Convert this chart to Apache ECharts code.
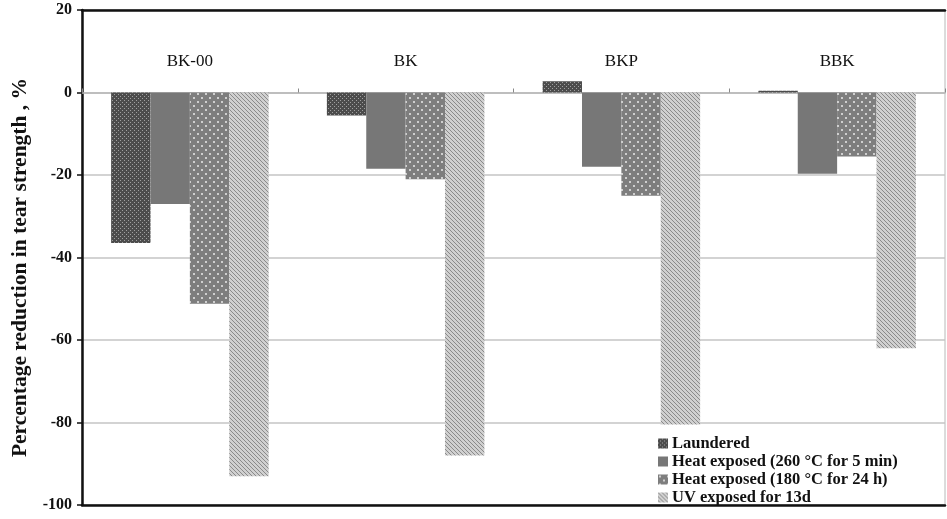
<!DOCTYPE html>
<html>
<head>
<meta charset="utf-8">
<script src="https://cdn.jsdelivr.net/npm/echarts@6/dist/echarts.min.js"></script>
<style>
  html, body { margin: 0; padding: 0; background: #fff; }
  #main { width: 947px; height: 519px; }
</style>
</head>
<body>
<div id="main"></div>
<script>
var categories = ['BK-00', 'BK', 'BKP', 'BBK'];
var seriesNames = ['Laundered', 'Heat exposed (260 °C for 5 min)', 'Heat exposed (180 °C for 24 h)', 'UV exposed for 13d'];
var laundered = [-36.5, -5.6, 2.7, 0.4];
var heat260 = [-27, -18.5, -18, -19.7];
var heat180 = [-51.2, -21, -25, -15.5];
var uv13d = [-93, -88, -80.5, -62];
var yTicks = [-100, -80, -60, -40, -20, 0, 20];

// small canvas tiles for the hatched fills
function tile(size, base, draw) {
    var c = document.createElement('canvas');
    c.width = size; c.height = size;
    var ctx = c.getContext('2d');
    ctx.fillStyle = base;
    ctx.fillRect(0, 0, size, size);
    draw(ctx);
    return { image: c, repeat: 'repeat' };
}

var fillLaundered = tile(4, '#4c4c4c', function (ctx) {
    ctx.fillStyle = '#a0a0a0';
    ctx.fillRect(0, 0, 1, 1);
    ctx.fillRect(2, 2, 1, 1);
});
var fillHeat260 = '#777777';
var fillHeat180 = tile(8, '#7e7e7e', function (ctx) {
    ctx.fillStyle = '#cfcfcf';
    ctx.fillRect(1, 1, 2, 2);
    ctx.fillRect(5, 5, 2, 2);
});
var fillUV = tile(4, '#d0d0d0', function (ctx) {
    ctx.fillStyle = '#8a8a8a';
    for (var i = 0; i < 4; i++) ctx.fillRect(i, i, 1, 1);
});

var fills = [fillLaundered, fillHeat260, fillHeat180, fillUV];
var values = [laundered, heat260, heat180, uv13d];

var series = seriesNames.map(function (name, i) {
    return {
        name: name,
        type: 'bar',
        xAxisIndex: 0,
        data: values[i],
        barGap: '0%',
        barCategoryGap: '27%',
        itemStyle: { color: fills[i] }
    };
});

var serif = '"Liberation Serif", "Times New Roman", serif';
var gridTop = 10, gridBottom = 14;
var plotH = 519 - gridTop - gridBottom;
// distance from the top edge down to the zero line
var zeroOffset = plotH * yTicks[yTicks.length - 1] / (yTicks[yTicks.length - 1] - yTicks[0]);

var chart = echarts.init(document.getElementById('main'));
var option = {
    backgroundColor: '#fff',
    animation: false,
    textStyle: { fontFamily: serif },
    grid: {
        left: 82, right: 2, top: gridTop, bottom: gridBottom,
        outerBoundsMode: 'none',
        containLabel: false,
        show: true, borderColor: '#b8b8b8', borderWidth: 1
    },
    legend: {
        orient: 'vertical',
        left: 658, top: 435,
        padding: 0,
        itemWidth: 10, itemHeight: 10, itemGap: 1,
        icon: 'rect',
        data: seriesNames,
        textStyle: { fontFamily: serif, fontSize: 16.5, fontWeight: 'bold', color: '#111', padding: [0, 0, 0, -1] }
    },
    xAxis: [{
        type: 'category',
        data: categories,
        position: 'top',
        offset: -zeroOffset,
        axisLine: { onZero: false, lineStyle: { color: '#b8b8b8', width: 1.5 } },
        axisTick: { show: true, length: 4, lineStyle: { color: '#888' } },
        axisLabel: { margin: 22, fontFamily: serif, fontSize: 17, color: '#111' },
        splitLine: { show: false }
    }, {
        type: 'category',
        data: categories,
        position: 'bottom',
        axisLine: { onZero: false, lineStyle: { color: '#111', width: 2.5 } },
        axisTick: { show: false },
        axisLabel: { show: false }
    }, {
        type: 'category',
        data: categories,
        position: 'top',
        axisLine: { onZero: false, lineStyle: { color: '#111', width: 2.5 } },
        axisTick: { show: false },
        axisLabel: { show: false }
    }],
    yAxis: {
        type: 'value',
        min: yTicks[0], max: yTicks[yTicks.length - 1], interval: 20,
        name: 'Percentage reduction in tear strength , %',
        nameLocation: 'middle',
        nameGap: 50,
        nameTextStyle: { fontFamily: serif, fontSize: 21.5, fontWeight: 'bold', color: '#111', padding: [0, 20, 0, 0] },
        axisLine: { show: true, lineStyle: { color: '#111', width: 2.5 } },
        axisTick: { show: true, length: 5, lineStyle: { color: '#111', width: 1.5 } },
        axisLabel: { margin: 10, fontFamily: serif, fontSize: 16, fontWeight: 'bold', color: '#111' },
        splitLine: { show: true, lineStyle: { color: '#c4c4c4', width: 1.5 } }
    },
    series: series
};
chart.setOption(option);
</script>
</body>
</html>
